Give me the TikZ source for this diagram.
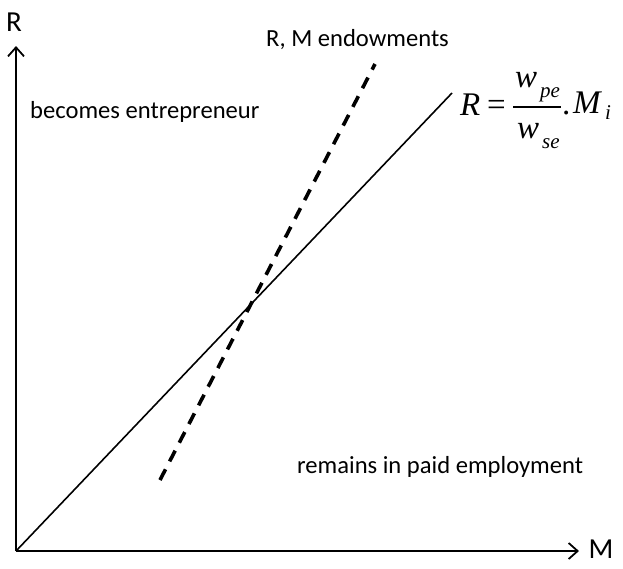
\documentclass[tikz,border=0pt]{standalone}
\usepackage{fontspec}
\setmainfont{Carlito}
\newfontfamily\tms{Liberation Serif}
\usetikzlibrary{arrows.meta}
\begin{document}
\begin{tikzpicture}[x=1pt,y=-1pt,
  lbl/.style={anchor=base west,inner sep=0pt,font=\fontsize{24.6}{27}\selectfont},
  axlbl/.style={inner sep=0pt,font=\fontsize{29}{31}\selectfont},
  eqbig/.style={anchor=base west,inner sep=0pt,font=\tms\fontsize{33}{36}\selectfont\itshape},
  eqsmall/.style={anchor=base west,inner sep=0pt,font=\tms\fontsize{21}{23}\selectfont\itshape},
  axis/.style={line width=1.8pt,-{Straight Barb[length=9pt,width=16pt,line width=1.8pt]}},
  dashline/.style={line width=3.6pt,dash pattern=on 12pt off 9pt}]
\useasboundingbox (0,0) rectangle (623,568);
\coordinate (O) at (16,551);
\coordinate (ytop) at (16,46);
\coordinate (xend) at (579,551);
\coordinate (s1) at (452,93);
\coordinate (d1) at (160,480);
\coordinate (d2) at (375,64);
\draw[axis] (O) -- (ytop);
\draw[axis] (O) -- (xend);
\draw[line width=1.6pt] (O) -- (s1);
\draw[dashline] (d1) -- (d2);
\node[axlbl] (R) at (14,22) {R};
\node[axlbl] (M) at (601,549) {M};
\node[lbl] (ent) at (30,118) {becomes entrepreneur};
\node[lbl] (emp) at (297,473) {remains in paid employment};
\node[lbl] (endw) at (266,46) {R, M endowments};
% equation
\node[eqbig] (eR) at (460,115) {R};
\node[eqbig,font=\tms\fontsize{33}{36}\selectfont] (eEq) at (487,115) {=};
\coordinate (b1) at (513,107);
\coordinate (b2) at (561,107);
\draw[line width=1.4pt] (b1) -- (b2);
\node[eqbig] (nw) at (515,87) {w};
\node[eqsmall] (npe) at (540,97) {pe};
\node[eqbig] (dw) at (517,138) {w};
\node[eqsmall] (dse) at (542,148) {se};
\node[eqbig,font=\tms\fontsize{33}{36}\selectfont] (dot) at (562,114) {.};
\node[eqbig] (eM) at (573,113) {M};
\node[eqsmall] (ei) at (605,119) {i};
\end{tikzpicture}
\end{document}
